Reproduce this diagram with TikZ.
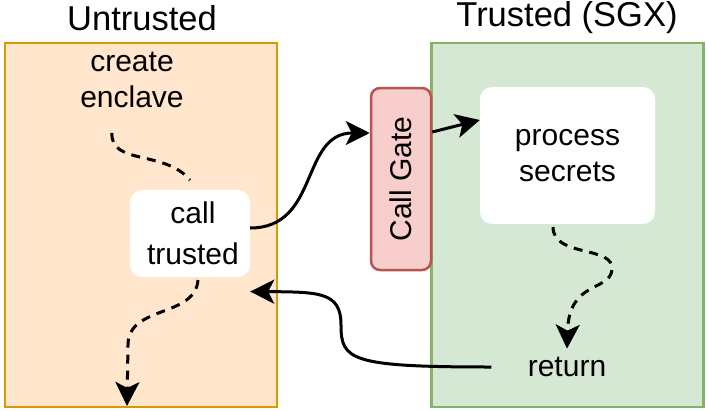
\documentclass[tikz,border=0pt]{standalone}
\usepackage{fontspec}
\setmainfont{Liberation Sans}
\usepackage{xcolor}
\usetikzlibrary{arrows.meta}
\definecolor{untrustfill}{HTML}{FFE6CC}
\definecolor{untrustdraw}{HTML}{D79B00}
\definecolor{trustfill}{HTML}{D5E8D4}
\definecolor{trustdraw}{HTML}{82B366}
\definecolor{gatefill}{HTML}{F8CECC}
\definecolor{gatedraw}{HTML}{B85450}
\tikzset{zone/.style={draw, line width=2.5pt, minimum width=272pt, minimum height=364pt, inner sep=0pt},
 label text/.style={font=\fontsize{34.5}{40}\selectfont},
 body text/.style={font=\fontsize{30}{36}\selectfont, align=center},
 white box/.style={fill=white, rounded corners=12pt, inner sep=0pt, body text},
 flow/.style={line width=3pt, -{Stealth[length=24pt, width=24pt, inset=6pt]}},
 flow dashed/.style={flow, dash pattern=on 9pt off 7pt},
 }

\begin{document}
\begin{tikzpicture}[x=1pt, y=-1pt]
        \useasboundingbox (0, 0) rectangle (707, 410);
        \node[zone, fill=untrustfill, draw=untrustdraw] (untrusted) at (141, 225) {};
        \node[zone, fill=trustfill, draw=trustdraw] (trusted) at (567.5, 225) {};
        \node[label text] (untrustedlbl) at (142, 18) {Untrusted};
        \node[label text] (trustedlbl) at (567, 18) {Trusted (SGX)};

        \node[draw=gatedraw, fill=gatefill, line width=2.5pt, rounded corners=9pt,
              minimum width=60pt, minimum height=182pt, inner sep=0pt] (gate) at (401, 179) {};
        \node[body text, rotate=90] (gatelbl) at (gate) {Call Gate};

        \node[body text] (create) at (132, 80) {create\\enclave};
        \node[white box, minimum width=120pt, minimum height=87pt,
              font=\fontsize{30}{41}\selectfont] (call) at (190, 233.5) {\hspace{6pt}call\\\hspace{6pt}trusted};
        \node[white box, minimum width=175pt, minimum height=137pt] (process) at (567.5, 155.5) {process\\secrets};
        \node[body text] (return) at (567, 367) {return};

        \coordinate (createout) at (112, 133);
        \coordinate (callin) at (190, 180);
        \coordinate (callout) at (198, 280);
        \coordinate (exit) at (127, 406);
        \coordinate (procout) at (553, 227);

        \draw[line width=3pt, dash pattern=on 9pt off 7pt] (createout) .. controls (110, 165) and (165, 150) .. (callin);
        \draw[flow dashed] (callout) .. controls (195, 318) and (128, 305) .. (128, 345) -- (exit);
        \draw[flow dashed] (procout) .. controls (553, 258) and (615, 245) .. (612, 270)
            .. controls (609, 292) and (569, 280) .. ([yshift=5pt]return.north);
        \draw[flow] ([yshift=5.5pt]call.east) .. controls (320, 228) and (300, 133) .. ([yshift=46pt]gate.west);
        \draw[flow] ([yshift=47pt]gate.east) -- ([yshift=35.5pt]process.west);
        \draw[flow] ([xshift=-33pt]return.west) .. controls (350, 367) and (341, 360) .. (341, 325)
            .. controls (341, 292) and (320, 292) .. ([yshift=-58pt]call.east);
    \end{tikzpicture}
\end{document}
